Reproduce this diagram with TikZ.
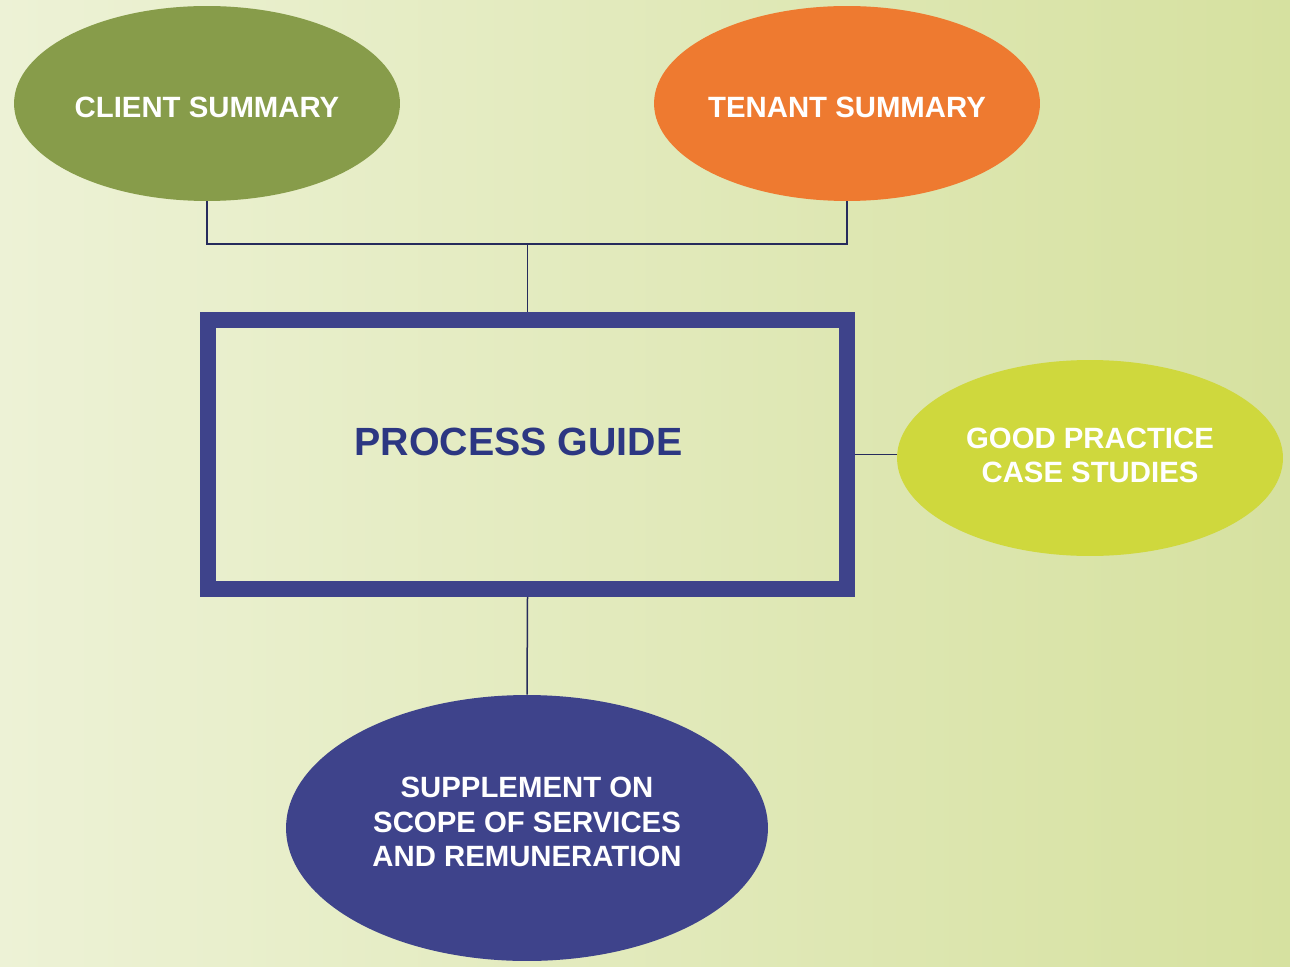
\documentclass[tikz,border=0pt]{standalone}
\usepackage{fontspec}
\setmainfont{Liberation Sans}
\usetikzlibrary{shapes.geometric}

\definecolor{clientgreen}{HTML}{879C4A}
\definecolor{tenantorange}{HTML}{EE7A30}
\definecolor{practicelime}{HTML}{CFD83D}
\definecolor{guideblue}{HTML}{3E438B}
\definecolor{guidetext}{HTML}{2C3782}
\definecolor{linknavy}{HTML}{262B5C}
\definecolor{bgleft}{HTML}{EDF2D6}
\definecolor{bgright}{HTML}{D6E1A0}

\begin{document}
\begin{tikzpicture}[x = 0.02cm, y = -0.02cm,
	bubble/.style = {ellipse, inner ysep=0pt, inner xsep=-0.1cm, text=white, align=center, font={\fontsize{16.7}{19.6}\selectfont\bfseries}},
	link/.style = {draw=linknavy, line width=0.03cm}]
	% background
	\shade [left color=bgleft, right color=bgright] (0,0) rectangle (1290,966);
	% summaries on top
	\node [bubble, fill=clientgreen, minimum width=7.72cm, minimum height=3.9cm, text height=0.56cm] (client) at (207,103.5) {CLIENT SUMMARY};
	\node [bubble, fill=tenantorange, minimum width=7.72cm, minimum height=3.9cm, text height=0.56cm] (tenant) at (847,103.5) {TENANT SUMMARY};
	% the guide itself
	\node [draw=guideblue, line width=0.32cm, minimum width=12.78cm, minimum height=5.38cm, inner sep=0pt] (guide) at (527.5,454.5) {};
	\node [text=guidetext, font={\fontsize{22.4}{26}\selectfont\bfseries}] (guidelabel) at (518.5,441.5) {PROCESS GUIDE};
	\node [bubble, fill=practicelime, minimum width=7.72cm, minimum height=3.92cm, text depth=0.1cm] (practice) at (1090,458) {GOOD PRACTICE\\CASE STUDIES};
	\node [bubble, fill=guideblue, minimum width=9.64cm, minimum height=5.32cm, text depth=0.24cm] (supplement) at (527,828) {SUPPLEMENT ON\\SCOPE OF SERVICES\\AND REMUNERATION};
	% connectors
	\coordinate (hub) at (527.5,244);
	\draw [link] (client.south) |- (hub) -| (tenant.south);
	\draw [link] (hub) -- (guide.north);
	\draw [link] (guide.east) -- (guide.east -| practice.west);
	\draw [link] (guide.south) -- (supplement.north);
	\end{tikzpicture}
\end{document}
